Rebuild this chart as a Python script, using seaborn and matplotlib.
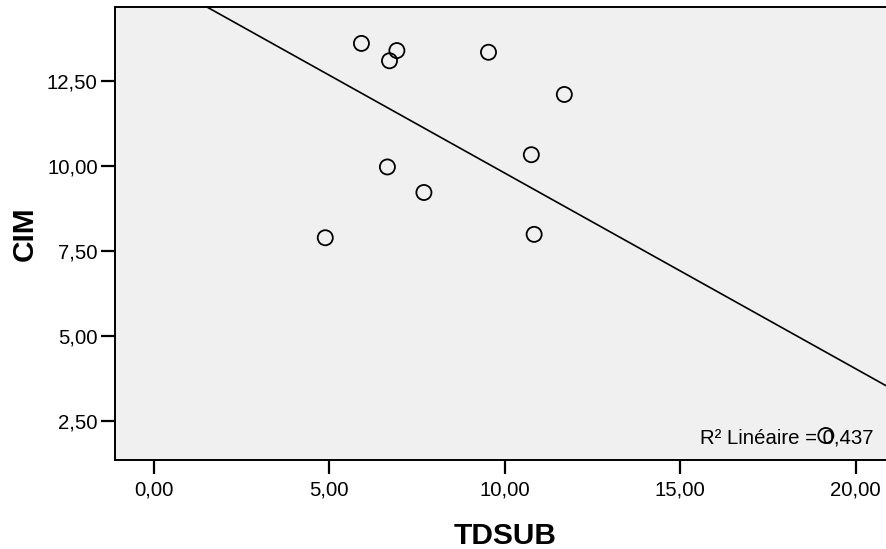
import numpy as np
import pandas as pd
import matplotlib
matplotlib.use("Agg")
import matplotlib.pyplot as plt
import seaborn as sns

# Observations
tdsub = [5.92, 6.93, 6.72, 9.54, 11.70, 10.76, 6.66, 7.70, 4.89, 10.84, 19.15]
cim = [13.59, 13.38, 13.08, 13.33, 12.09, 10.32, 9.96, 9.21, 7.88, 7.98, 2.07]

# Axis ticks
x_ticks = [0.0, 5.0, 10.0, 15.0, 20.0]
x_tick_labels = ["0,00", "5,00", "10,00", "15,00", "20,00"]
y_ticks = [2.5, 5.0, 7.5, 10.0, 12.5]
y_tick_labels = ["2,50", "5,00", "7,50", "10,00", "12,50"]

r2_label = "R² Linéaire = 0,437"

df = pd.DataFrame({"TDSUB": tdsub, "CIM": cim})

sns.set_style("white")
plt.rcParams["font.family"] = ["Liberation Sans", "DejaVu Sans"]

W, H = 886, 549
fig = plt.figure(figsize=(W / 100, H / 100), dpi=100)
fig.patch.set_facecolor("white")

# plot frame in pixels: left 115, right 895 (runs past the edge), top 7, bottom 460
left, right, top, bottom = 115, 895, 7, 460
ax = fig.add_axes([left / W, 1 - bottom / H, (right - left) / W, (bottom - top) / H])
ax.set_facecolor("#F0F0F0")

ax.set_xlim(-1.10, 21.12)
ax.set_ylim(1.35, 14.66)

sns.scatterplot(data=df, x="TDSUB", y="CIM", ax=ax, marker="o", s=118,
                facecolors="none", edgecolor="black", linewidth=1.3, zorder=3)
sns.regplot(data=df, x="TDSUB", y="CIM", ax=ax, scatter=False, ci=None,
            truncate=False, color="black", line_kws={"linewidth": 1.2})

ax.set_xlim(-1.10, 21.12)
ax.set_ylim(1.35, 14.66)

ax.set_xticks(x_ticks)
ax.set_xticklabels(x_tick_labels)
ax.set_yticks(y_ticks)
ax.set_yticklabels(y_tick_labels)
ax.tick_params(axis="both", direction="out", length=10, width=1.6, color="black",
               labelsize=14.7, labelcolor="black", pad=2.5)
ax.tick_params(axis="x", bottom=True, pad=5)
ax.tick_params(axis="y", left=True)

for side in ["left", "bottom", "top"]:
    ax.spines[side].set_visible(True)
    ax.spines[side].set_color("black")
    ax.spines[side].set_linewidth(1.4)
ax.spines["right"].set_visible(False)

ax.set_xlabel("TDSUB", fontsize=21.5, fontweight="bold", color="black")
ax.set_ylabel("CIM", fontsize=21.5, fontweight="bold", color="black")
ax.xaxis.label.set_va("baseline")
ax.xaxis.set_label_coords(0.5, (bottom - 543.5) / (bottom - top))
ax.yaxis.label.set_va("baseline")
ax.yaxis.set_label_coords((33 - left) / (right - left), 0.5)

fig.text(874 / W, 1 - 444 / H, r2_label, ha="right", va="baseline",
         fontsize=14.7, color="black")

fig.savefig("out.png", dpi=100, facecolor="white")
